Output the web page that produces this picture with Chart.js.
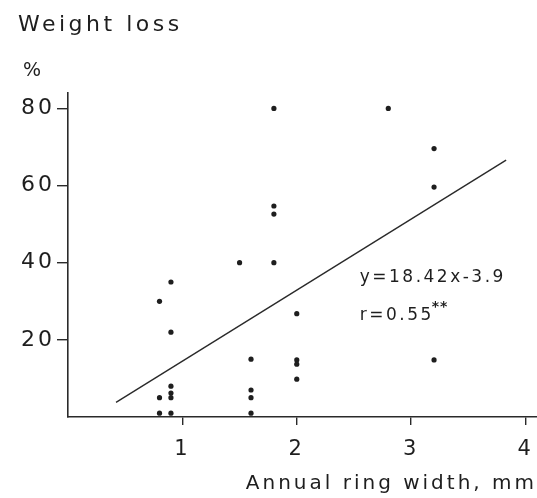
<!DOCTYPE html>
<html>
<head>
<meta charset="utf-8">
<script src="https://cdn.jsdelivr.net/npm/chart.js@4.4.1/dist/chart.umd.min.js"></script>
<style>
  html, body { margin: 0; padding: 0; background: #fff; }
  #wrap { width: 537px; height: 498px; }
</style>
</head>
<body>
<div id="wrap"><canvas id="chart" width="537" height="498"></canvas></div>
<script>
// Scatter points
const ringWidth  = [0.8, 0.8, 0.8, 0.9, 0.9, 0.9, 0.9, 0.9, 0.9, 1.5, 1.6, 1.6, 1.6, 1.6,
                    1.8, 1.8, 1.8, 1.8, 2.0, 2.0, 2.0, 2.0, 2.8, 3.2, 3.2, 3.2];
const weightLoss = [30, 5, 1, 35, 22, 8, 6.2, 5, 1, 40, 15, 7, 5, 1,
                    80, 54.7, 52.6, 40, 26.8, 14.8, 13.7, 9.8, 80, 69.6, 59.6, 14.8];

// Regression line ends (y=18.42x-3.9)
const fitX = [0.42, 3.83];
const fitY = [3.8, 66.6];

// Axis ticks
const xTicks = [1, 2, 3, 4];
const yTicks = [20, 40, 60, 80];

const ink = '#1e1e1e';
const fontName = '"DejaVu Sans", sans-serif';

const points = ringWidth.map((x, i) => ({ x, y: weightLoss[i] }));
const fitLine = fitX.map((x, i) => ({ x, y: fitY[i] }));

const noPad = () => ({ left: 0, top: 0, right: 0, bottom: 0 });

// extra text: axis caption on top, equation, r
const textPlugin = {
  id: 'textBits',
  beforeDraw(chart) {
    chart.ctx.letterSpacing = '3px';
  },
  afterDraw(chart) {
    const ctx = chart.ctx;
    const xs = chart.scales.x, ys = chart.scales.y;
    ctx.save();
    ctx.fillStyle = ink;
    ctx.textAlign = 'left';
    ctx.textBaseline = 'alphabetic';
    ctx.font = '22px ' + fontName;
    ctx.letterSpacing = '3.5px';
    ctx.fillText('Weight loss', 18, 31);
    ctx.font = '19px ' + fontName;
    ctx.letterSpacing = '0px';
    ctx.fillText('%', 23, 76);

    ctx.font = '17px ' + fontName;
    ctx.letterSpacing = '2.5px';
    const ex = xs.getPixelForValue(2.55);
    ctx.fillText('y=18.42x-3.9', ex, ys.getPixelForValue(35.1));
    ctx.fillText('r=0.55', ex, ys.getPixelForValue(25.1));
    ctx.font = 'bold 14px ' + fontName;
    ctx.letterSpacing = '1px';
    ctx.fillText('**', ex + 72, ys.getPixelForValue(27.4));
    ctx.restore();
  }
};

new Chart(document.getElementById('chart'), {
  data: {
    datasets: [
      {
        type: 'scatter',
        data: points,
        pointRadius: 2.6,
        pointBackgroundColor: ink,
        pointBorderWidth: 0
      },
      {
        type: 'line',
        data: fitLine,
        borderColor: '#2a2a2a',
        borderWidth: 1.4,
        pointRadius: 0,
        fill: false
      }
    ]
  },
  options: {
    responsive: false,
    animation: false,
    layout: { autoPadding: false, padding: { top: 93, right: 0, left: 0, bottom: 0 } },
    plugins: { legend: { display: false }, tooltip: { enabled: false } },
    scales: {
      x: {
        type: 'linear',
        min: 0, max: 4.1,
        afterBuildTicks: s => { s.ticks = xTicks.map(v => ({ value: v })); },
        afterFit: s => { s.height = 81; s.paddingLeft = 0; s.paddingRight = 0; s.getPadding = noPad; },
        grid: { drawOnChartArea: false, drawTicks: true, tickLength: 8, color: '#2a2a2a', lineWidth: 1.4 },
        border: { display: true, color: '#2a2a2a', width: 1.6 },
        ticks: { color: ink, padding: 12, font: { family: fontName, size: 21 } },
        title: {
          display: true, text: 'Annual ring width, mm', align: 'end',
          color: ink, font: { family: fontName, size: 20 }, padding: { top: 0, bottom: 2 }
        }
      },
      y: {
        type: 'linear',
        min: 0, max: 84,
        afterBuildTicks: s => { s.ticks = yTicks.map(v => ({ value: v })); },
        afterFit: s => { s.width = 68; s.paddingTop = 0; s.paddingBottom = 0; s.getPadding = noPad; },
        grid: { drawOnChartArea: false, drawTicks: true, tickLength: 11, color: '#2a2a2a', lineWidth: 1.4 },
        border: { display: true, color: '#2a2a2a', width: 1.6 },
        ticks: { color: ink, padding: 2, font: { family: fontName, size: 22 } }
      }
    }
  },
  plugins: [textPlugin]
});
</script>
</body>
</html>
